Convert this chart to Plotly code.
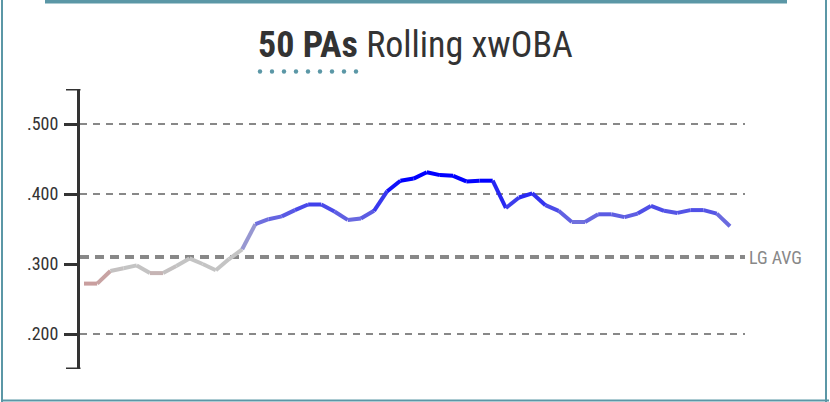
import plotly.graph_objects as go

# ---- data ----
pa_window = list(range(50))
xwoba = [0.272, 0.272, 0.290, 0.294, 0.298, 0.287, 0.287, 0.297, 0.308, 0.300,
         0.291, 0.307, 0.321, 0.357, 0.364, 0.368, 0.377, 0.385, 0.385, 0.375,
         0.363, 0.365, 0.376, 0.404, 0.419, 0.422, 0.431, 0.427, 0.426, 0.418,
         0.419, 0.419, 0.380, 0.395, 0.401, 0.384, 0.376, 0.360, 0.360, 0.371,
         0.371, 0.367, 0.372, 0.383, 0.376, 0.373, 0.377, 0.377, 0.372, 0.354]
lg_avg = 0.310
tick_vals = [0.2, 0.3, 0.4, 0.5]
tick_text = [".200", ".300", ".400", ".500"]
grid_vals = [0.2, 0.4, 0.5]
y_range = [0.15, 0.55]

# ---- layout geometry (pixels) ----
W, H = 830, 402
L, R, T, B = 80, 85, 89, 33
PW, PH = W - L - R, H - T - B

def px(x):
    return (x - L) / PW

def py(y):
    return (H - B - y) / PH

TEAL = "#5b97a6"
DARK = "#333333"
GRAY = "#888888"
FONT = "Roboto Condensed, Liberation Sans Narrow, Roboto, sans-serif"

stops = [(0.279, (201, 158, 158)), (0.293, (196, 196, 196)),
         (0.315, (196, 196, 196)), (0.42, (0, 0, 255))]

def color_for(v):
    if v <= stops[0][0]:
        c = stops[0][1]
    elif v >= stops[-1][0]:
        c = stops[-1][1]
    else:
        for (v0, c0), (v1, c1) in zip(stops[:-1], stops[1:]):
            if v0 <= v <= v1:
                t = (v - v0) / (v1 - v0)
                c = tuple(round(a + (b - a) * t) for a, b in zip(c0, c1))
                break
    return "rgb(%d,%d,%d)" % c

fig = go.Figure()
for i in range(len(xwoba) - 1):
    seg_x = pa_window[i:i + 2]
    seg_y = xwoba[i:i + 2]
    fig.add_trace(go.Scatter(
        x=seg_x, y=seg_y, mode="lines",
        line=dict(color=color_for(sum(seg_y) / 2), width=4),
        hoverinfo="skip", showlegend=False))

shapes = []
# grid lines
for g in grid_vals:
    shapes.append(dict(type="line", xref="paper", yref="y", x0=0, x1=1, y0=g, y1=g,
                       line=dict(color=GRAY, width=2, dash="7px,6px"), layer="below"))
# league average line
shapes.append(dict(type="line", xref="paper", yref="y", x0=0, x1=1, y0=lg_avg, y1=lg_avg,
                   line=dict(color=GRAY, width=4, dash="9px,6px"), layer="below"))
# axis end caps
for yv in y_range:
    shapes.append(dict(type="line", xref="paper", yref="y", x0=px(66), x1=px(80.5), y0=yv, y1=yv,
                       line=dict(color=DARK, width=3)))
# card border
shapes += [
    dict(type="line", xref="paper", yref="paper", x0=px(2), x1=px(2), y0=py(0), y1=py(402),
         line=dict(color=TEAL, width=2)),
    dict(type="line", xref="paper", yref="paper", x0=px(826), x1=px(826), y0=py(0), y1=py(402),
         line=dict(color=TEAL, width=2)),
    dict(type="line", xref="paper", yref="paper", x0=px(1), x1=px(829), y0=py(400.5), y1=py(400.5),
         line=dict(color=TEAL, width=2)),
    dict(type="line", xref="paper", yref="paper", x0=px(45), x1=px(787), y0=py(1.5), y1=py(1.5),
         line=dict(color=TEAL, width=4)),
]
# dotted underline below title
for k in range(9):
    cx = 260 + k * 12
    shapes.append(dict(type="circle", xref="paper", yref="paper",
                       xsizemode="pixel", ysizemode="pixel",
                       xanchor=px(cx), yanchor=py(71.5),
                       x0=-2.2, x1=2.2, y0=-2.2, y1=2.2,
                       fillcolor=TEAL, line=dict(width=0)))

annotations = [
    dict(text="<b>50 PAs</b> Rolling xwOBA", xref="paper", yref="paper",
         x=px(415), y=py(45), xanchor="center", yanchor="middle", showarrow=False,
         font=dict(family=FONT, size=36, color=DARK)),
    dict(text="LG AVG", xref="paper", yref="y", x=px(747), y=lg_avg,
         xanchor="left", yanchor="middle", showarrow=False,
         font=dict(family=FONT, size=18, color=GRAY)),
]

k = 646 / 49
xmin = -4 / k
xmax = xmin + PW / k

fig.update_layout(
    width=W, height=H,
    margin=dict(l=L, r=R, t=T, b=B, pad=0),
    paper_bgcolor="white", plot_bgcolor="white",
    showlegend=False,
    shapes=shapes, annotations=annotations,
    xaxis=dict(range=[xmin, xmax], visible=False, fixedrange=True),
    yaxis=dict(range=y_range, tickvals=tick_vals, ticktext=tick_text,
               showgrid=False, zeroline=False,
               showline=True, linecolor=DARK, linewidth=3,
               ticks="outside", ticklen=13, tickwidth=3, tickcolor=DARK,
               ticklabelstandoff=2,
               tickfont=dict(family=FONT, size=18, color=DARK), fixedrange=True),
    font=dict(family=FONT),
)

fig.write_html("out.html", config={"displayModeBar": False})
